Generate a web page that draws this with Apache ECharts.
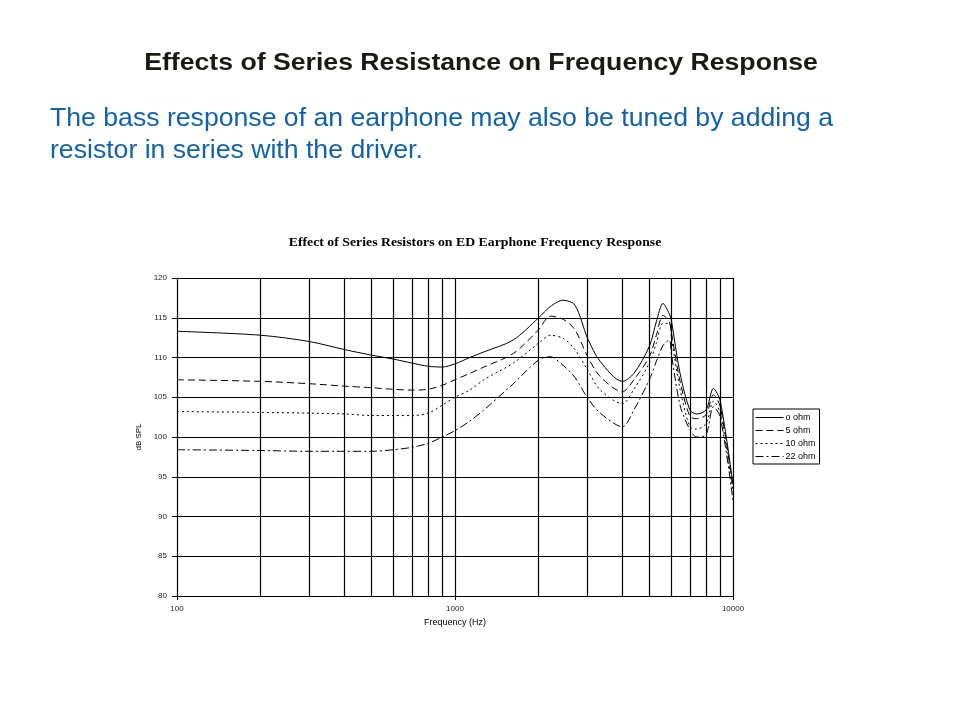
<!DOCTYPE html>
<html><head><meta charset="utf-8">
<script src="https://cdn.jsdelivr.net/npm/echarts@6/dist/echarts.min.js"></script>
<style>html,body{margin:0;padding:0;background:#fff}#c{width:960px;height:720px}</style>
</head><body><div id="c"></div>
<script>
const freqs = [100,200,300,400,500,600,700,800,900,1000,1130,1270,1620,2000,2200,2450,2700,3000,3330,4000,4400,5000,5300,5600,5900,6000,6450,7000,7400,8000,8500,9000,10000];
const ohm0  = [113.3,112.8,112.0,111.0,110.3,109.8,109.3,108.9,108.8,109.2,110.0,110.7,112.2,115.0,116.4,117.2,116.6,112.4,109.5,107.0,108.0,111.4,114.5,116.8,115.5,114.7,108.0,103.4,102.9,103.4,106.1,104.5,94.0];
const ohm5  = [107.2,107.0,106.7,106.4,106.2,106.0,105.9,106.0,106.5,107.2,108.0,108.8,110.5,113.5,115.2,114.8,113.5,110.1,107.6,105.7,107.2,110.1,112.8,115.3,114.5,113.2,107.0,102.6,102.3,102.8,105.3,103.8,93.5];
const ohm10 = [103.2,103.1,103.0,102.9,102.7,102.7,102.7,103.0,104.0,105.0,105.9,107.2,109.3,111.8,112.8,112.4,111.0,108.4,105.9,104.2,106.0,109.3,111.8,114.3,114.3,112.6,106.0,101.3,101.0,101.7,104.5,103.0,93.0];
const ohm22 = [98.4,98.3,98.2,98.2,98.2,98.4,98.7,99.2,100.0,100.8,102.0,103.4,106.7,109.7,110.1,109.0,107.5,104.9,103.0,101.3,103.4,107.2,109.5,111.5,112.2,110.5,104.0,100.9,100.0,100.3,103.8,102.5,92.0];
const seriesNames = ['o ohm','5 ohm','10 ohm','22 ohm'];
const minorFreqs = [200,300,400,500,600,700,800,900,2000,3000,4000,5000,6000,7000,8000,9000];

const pageTitle = 'Effects of Series Resistance on Frequency Response';
const bodyLines = ['The bass response of an earphone may also be tuned by adding a', 'resistor in series with the driver.'];
const chartTitle = 'Effect of Series Resistors on ED Earphone Frequency Response';

const dashes = ['solid', [7,4], [2,3], [8,3,2,3]];
const values = [ohm0, ohm5, ohm10, ohm22];

const chart = echarts.init(document.getElementById('c'), null, {renderer:'canvas'});
const series = values.map((vals, i) => ({
  name: seriesNames[i],
  type: 'line',
  data: freqs.map((f, j) => [f, vals[j]]),
  showSymbol: false,
  symbol: 'none',
  smooth: 0.3,
  lineStyle: {color:'#000', width:1, type: dashes[i]},
  itemStyle: {color:'#000'},
  z: 3
}));
series[0].markLine = {
  silent: true, symbol: ['none','none'], animation: false,
  label: {show:false},
  lineStyle: {color:'#000', width:1.2, type:'solid'},
  data: minorFreqs.map(f => ({xAxis: f}))
};

chart.setOption({
  animation: false,
  backgroundColor: '#fff',
  graphic: [
    {type:'text', x:481, y:63, scaleX:1.11, style:{text:pageTitle, align:'center', verticalAlign:'middle', font:'bold 24px "Liberation Sans", Arial', fill:'#1a1a14'}},
    {type:'text', x:50, y:119, scaleX:1.065, style:{text:bodyLines[0], align:'left', verticalAlign:'middle', font:'25px "Liberation Sans", Arial', fill:'#1262a8'}},
    {type:'text', x:50, y:151, scaleX:1.065, style:{text:bodyLines[1], align:'left', verticalAlign:'middle', font:'25px "Liberation Sans", Arial', fill:'#1262a8'}},
    {type:'text', x:475, y:243, scaleX:1.06, style:{text:chartTitle, align:'center', verticalAlign:'middle', font:'bold 13px "Liberation Serif", "Times New Roman"', fill:'#000'}}
  ],
  grid: {left:177, right:227, top:278, bottom:124, show:false},
  legend: {
    orient:'vertical', left:753, top:409,
    itemWidth:28, itemHeight:8, itemGap:4,
    padding:[4,4,3,2],
    borderColor:'#000', borderWidth:1,
    itemStyle:{opacity:0},
    lineStyle:{width:1},
    textStyle:{fontSize:9, fontFamily:'"Liberation Sans", Arial', color:'#000', padding:[0,0,0,-3]},
    data: seriesNames
  },
  xAxis: {
    type:'log', logBase:10, min:100, max:10000,
    name:'Frequency (Hz)', nameLocation:'middle', nameGap:22,
    nameTextStyle:{fontSize:9, fontFamily:'"Liberation Sans", Arial', color:'#000'},
    axisLine:{show:true, lineStyle:{color:'#000', width:1}},
    axisTick:{show:true, length:4, lineStyle:{color:'#000'}},
    axisLabel:{fontSize:8, fontFamily:'"Liberation Sans", Arial', color:'#222', margin:9, formatter: v => String(Math.round(v))},
    splitLine:{show:true, lineStyle:{color:'#000', width:1.2}},
    minorTick:{show:false}, minorSplitLine:{show:false}
  },
  yAxis: {
    type:'value', min:80, max:120, interval:5,
    name:'dB SPL', nameLocation:'middle', nameGap:30, nameRotate:90,
    nameTextStyle:{fontSize:8, fontFamily:'"Liberation Sans", Arial', color:'#000'},
    axisLine:{show:true, lineStyle:{color:'#000', width:1}},
    axisTick:{show:true, length:5, lineStyle:{color:'#000'}},
    axisLabel:{fontSize:8, fontFamily:'"Liberation Sans", Arial', color:'#222', margin:10},
    splitLine:{show:true, lineStyle:{color:'#000', width:1.2}}
  },
  series: series
});
</script></body></html>
